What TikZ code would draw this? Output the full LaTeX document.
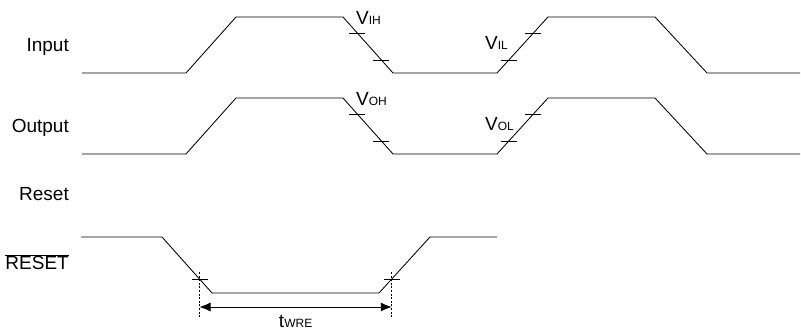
\documentclass[tikz,border=0pt]{standalone}
\usepackage{fontspec}
\setmainfont{Liberation Sans}
\usetikzlibrary{arrows.meta,calc}

\newcommand{\levelname}[2]{#1{\fontsize{12}{12}\selectfont #2}}

\begin{document}
\begin{tikzpicture}[
  x=1pt, y=-1pt,
  >=Latex,
  font=\fontsize{19}{22}\selectfont,
  signame/.style={anchor=base east, inner sep=0pt},
  levelmark/.style={anchor=base west, inner sep=0pt},
  wave/.style={line width=0.85pt, line join=miter},
  tickmark/.style={line width=0.75pt},
  guide/.style={line width=0.75pt, dash pattern=on 2pt off 1.6pt},
  span/.style={line width=0.85pt, {Latex[length=11pt, width=9pt]}-{Latex[length=11pt, width=9pt]}}
]
\useasboundingbox (0,0) rectangle (801,331);

% Signal names.
\node[signame] (nin)    at (69,52)  {Input};
\node[signame] (nout)   at (69,133) {Output};
\node[signame] (nreset) at (69,201) {Reset};
\node[signame] (nrstb)  at (69,270) {$\overline{\mbox{RESET}}$};

% Input and output waveforms, with their threshold marks.
\foreach \row/\yo/\hname/\lname in {in/0/IH/IL, out/81/OH/OL} {
  \coordinate (\row a) at (82,73+\yo);
  \coordinate (\row b) at (186,73+\yo);
  \coordinate (\row c) at (236,17+\yo);
  \coordinate (\row d) at (343,17+\yo);
  \coordinate (\row e) at (393,73+\yo);
  \coordinate (\row f) at (497,73+\yo);
  \coordinate (\row g) at (548,17+\yo);
  \coordinate (\row h) at (655,17+\yo);
  \coordinate (\row i) at (707,73+\yo);
  \coordinate (\row j) at (800,73+\yo);
  \draw[wave] (\row a) -- (\row b) -- (\row c) -- (\row d) -- (\row e)
    -- (\row f) -- (\row g) -- (\row h) -- (\row i) -- (\row j);
  \foreach \p/\q in {d/e, g/f}
    \foreach \t in {0.286,0.768}
      \draw[tickmark] ($(\row\p)!\t!(\row\q)$) +(-8,0) -- +(8,0);
  \node[levelmark] (\row hi) at (356,25+\yo) {\levelname{V}{\hname}};
  \node[levelmark] (\row lo) at (485,50+\yo) {\levelname{V}{\lname}};
}

% Reset pulse.
\coordinate (ra) at (81,237);
\coordinate (rb) at (162,237);
\coordinate (rc) at (212,293);
\coordinate (rd) at (379,293);
\coordinate (re) at (430,237);
\coordinate (rf) at (497,237);
\draw[wave] (ra) -- (rb) -- (rc) -- (rd) -- (re) -- (rf);

% Pulse width.
\coordinate (tl) at ($(rb)!0.75!(rc)$);
\coordinate (tr) at ($(re)!0.75!(rd)$);
\draw[tickmark] (tl) +(-8,0) -- +(8,0);
\draw[tickmark] (tr) +(-8,0) -- +(8,0);
\draw[guide] ($(tl)+(0,-7)$) -- ($(tl)+(0,38)$);
\draw[guide] ($(tr)+(0,-7)$) -- ($(tr)+(0,38)$);
\coordinate (al) at ($(tl)+(0,28)$);
\coordinate (ar) at ($(tr)+(0,28)$);
\draw[span] (al) -- (ar) coordinate[midway] (amid);
\node[anchor=base, inner sep=0pt] (twre) at ($(amid)+(0,20)$) {\levelname{t}{WRE}};

\end{tikzpicture}
\end{document}
